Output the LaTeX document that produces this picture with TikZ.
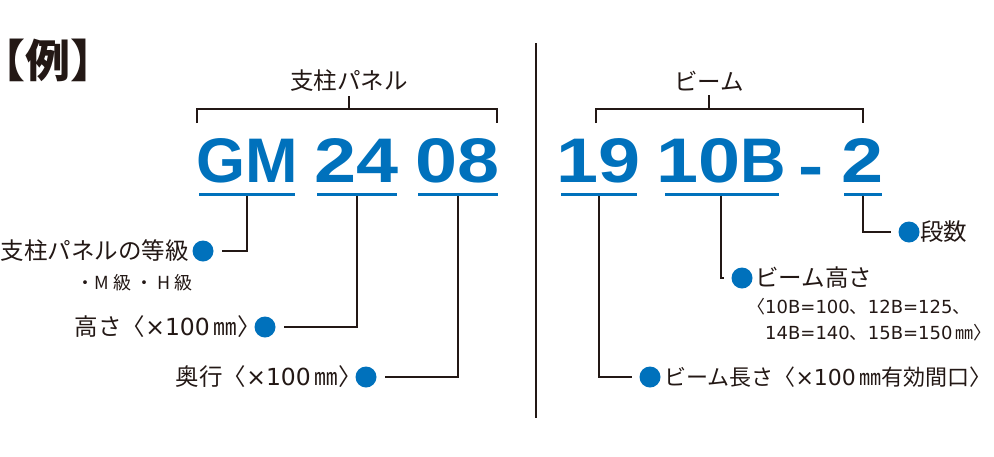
\documentclass[tikz,border=0pt]{standalone}
\usepackage{fontspec}
\setmainfont{Noto Sans CJK JP}
\newfontfamily\latfont{DejaVu Sans}
\newfontfamily\codefont{Liberation Sans}
\newfontfamily\digitfont{Liberation Sans}[FakeStretch=1.2]
\newcommand\hw{\addfontfeature{RawFeature=+halt}}
\definecolor{ink}{HTML}{231815}
\definecolor{codeblue}{HTML}{0071BC}
\tikzset{
	wire/.style={draw=ink, line width=1.8pt},
	uline/.style={draw=codeblue, line width=3pt},
	dot/.style={circle, fill=codeblue, inner sep=0pt, minimum size=21pt, outer sep=8pt},
	code/.style={inner sep=0pt, anchor=base, text=codeblue, font=\bfseries\fontsize{63}{63}\selectfont},
	lbl/.style={inner sep=0pt, text=ink, font=\fontsize{23.5}{28}\selectfont},
	note/.style={inner sep=0pt, text=ink, font=\fontsize{18}{22}\selectfont},
}
\begin{document}
\begin{tikzpicture}[x=1pt, y=-1pt]
	\useasboundingbox (0,0) rectangle (994,456);
	% title
	\node[inner sep=0pt, text=ink, font=\bfseries\fontsize{45}{45}\selectfont\hw] (title) at (48,60) {【例】};
	% divider
	\draw[wire, line width=2.4pt] (536,43) -- (536,418);

	% ####################################
	% panel code
	\node[lbl] (panel) at (349,81) {支柱パネル};
	\draw[wire] (197,123) |- (497,109) -- (497,123);
	\draw[wire, shorten <=4pt] (panel) -- (panel |- 0,109);
	\node[code] (gm) at (247,182) {{\codefont GM}};
	\node[code] (h24) at (357,182) {{\digitfont 24}};
	\node[code] (d08) at (458,182) {{\digitfont 08}};
	% underlines
	\draw[uline] (199,194) -- (295,194);
	\draw[uline] (317,194) -- (397,194);
	\draw[uline] (418,194) -- (498,194);
	% grade
	\node[dot] (gmdot) at (203,251) {};
	\node[lbl, anchor=east] (grade) at (189,251) {支柱パネルの等級};
	\node[note, anchor=east] (gradenote) at (193,283) {・M 級 ・ H 級};
	\draw[wire] (gm.base |- 0,196) |- (gmdot);
	% height
	\node[dot] (hdot) at (265,327) {};
	\node[lbl, anchor=east] (height) at (261,327) {高さ〈{\latfont ×100\,}㎜〉};
	\draw[wire] (h24.base |- 0,196) |- (hdot);
	% depth
	\node[dot] (ddot) at (366,377) {};
	\node[lbl, anchor=east] (depth) at (362,377) {奥行〈{\latfont ×100\,}㎜〉};
	\draw[wire] (d08.base |- 0,196) |- (ddot);

	% ####################################
	% beam code
	\node[lbl] (beam) at (709,81) {ビーム};
	\draw[wire] (596,123) |- (863,109) -- (863,123);
	\draw[wire, shorten <=4pt] (beam) -- (beam |- 0,109);
	\node[code] (l19) at (599,182) {{\digitfont 19}};
	\node[code] (b10) at (721,182) {{\digitfont 10}{\codefont B}};
	\node[code] (dash) at (811.5,187) {{\digitfont -}};
	\node[code] (n2) at (863,182) {{\digitfont 2}};
	% underlines
	\draw[uline] (561,194) -- (637,194);
	\draw[uline] (665,194) -- (779,194);
	\draw[uline] (844,194) -- (882,194);
	% tiers
	\node[dot] (ndot) at (909,232) {};
	\node[lbl, anchor=west] (tiers) at (920,232) {段数};
	\draw[wire] (n2.base |- 0,196) |- (ndot);
	% beam height
	\node[dot] (bdot) at (742,278) {};
	\node[lbl, anchor=west] (bheight) at (755,278) {ビーム高さ};
	\node[note, anchor=west] (bnote1) at (747,307) {〈{\latfont 10B=100}、{\latfont 12B=125}、};
	\node[note, anchor=west] (bnote2) at (765,333) {{\latfont 14B=140}、{\latfont 15B=150\,}㎜〉};
	\draw[wire] (b10.base |- 0,196) |- (bdot);
	% beam length
	\node[dot] (ldot) at (650,377) {};
	\node[lbl, anchor=west, font=\fontsize{22}{26}\selectfont] (blength) at (664,377) {ビーム長さ〈{\latfont ×100\,}㎜有効間口〉};
	\draw[wire] (l19.base |- 0,196) |- (ldot);
\end{tikzpicture}
\end{document}
